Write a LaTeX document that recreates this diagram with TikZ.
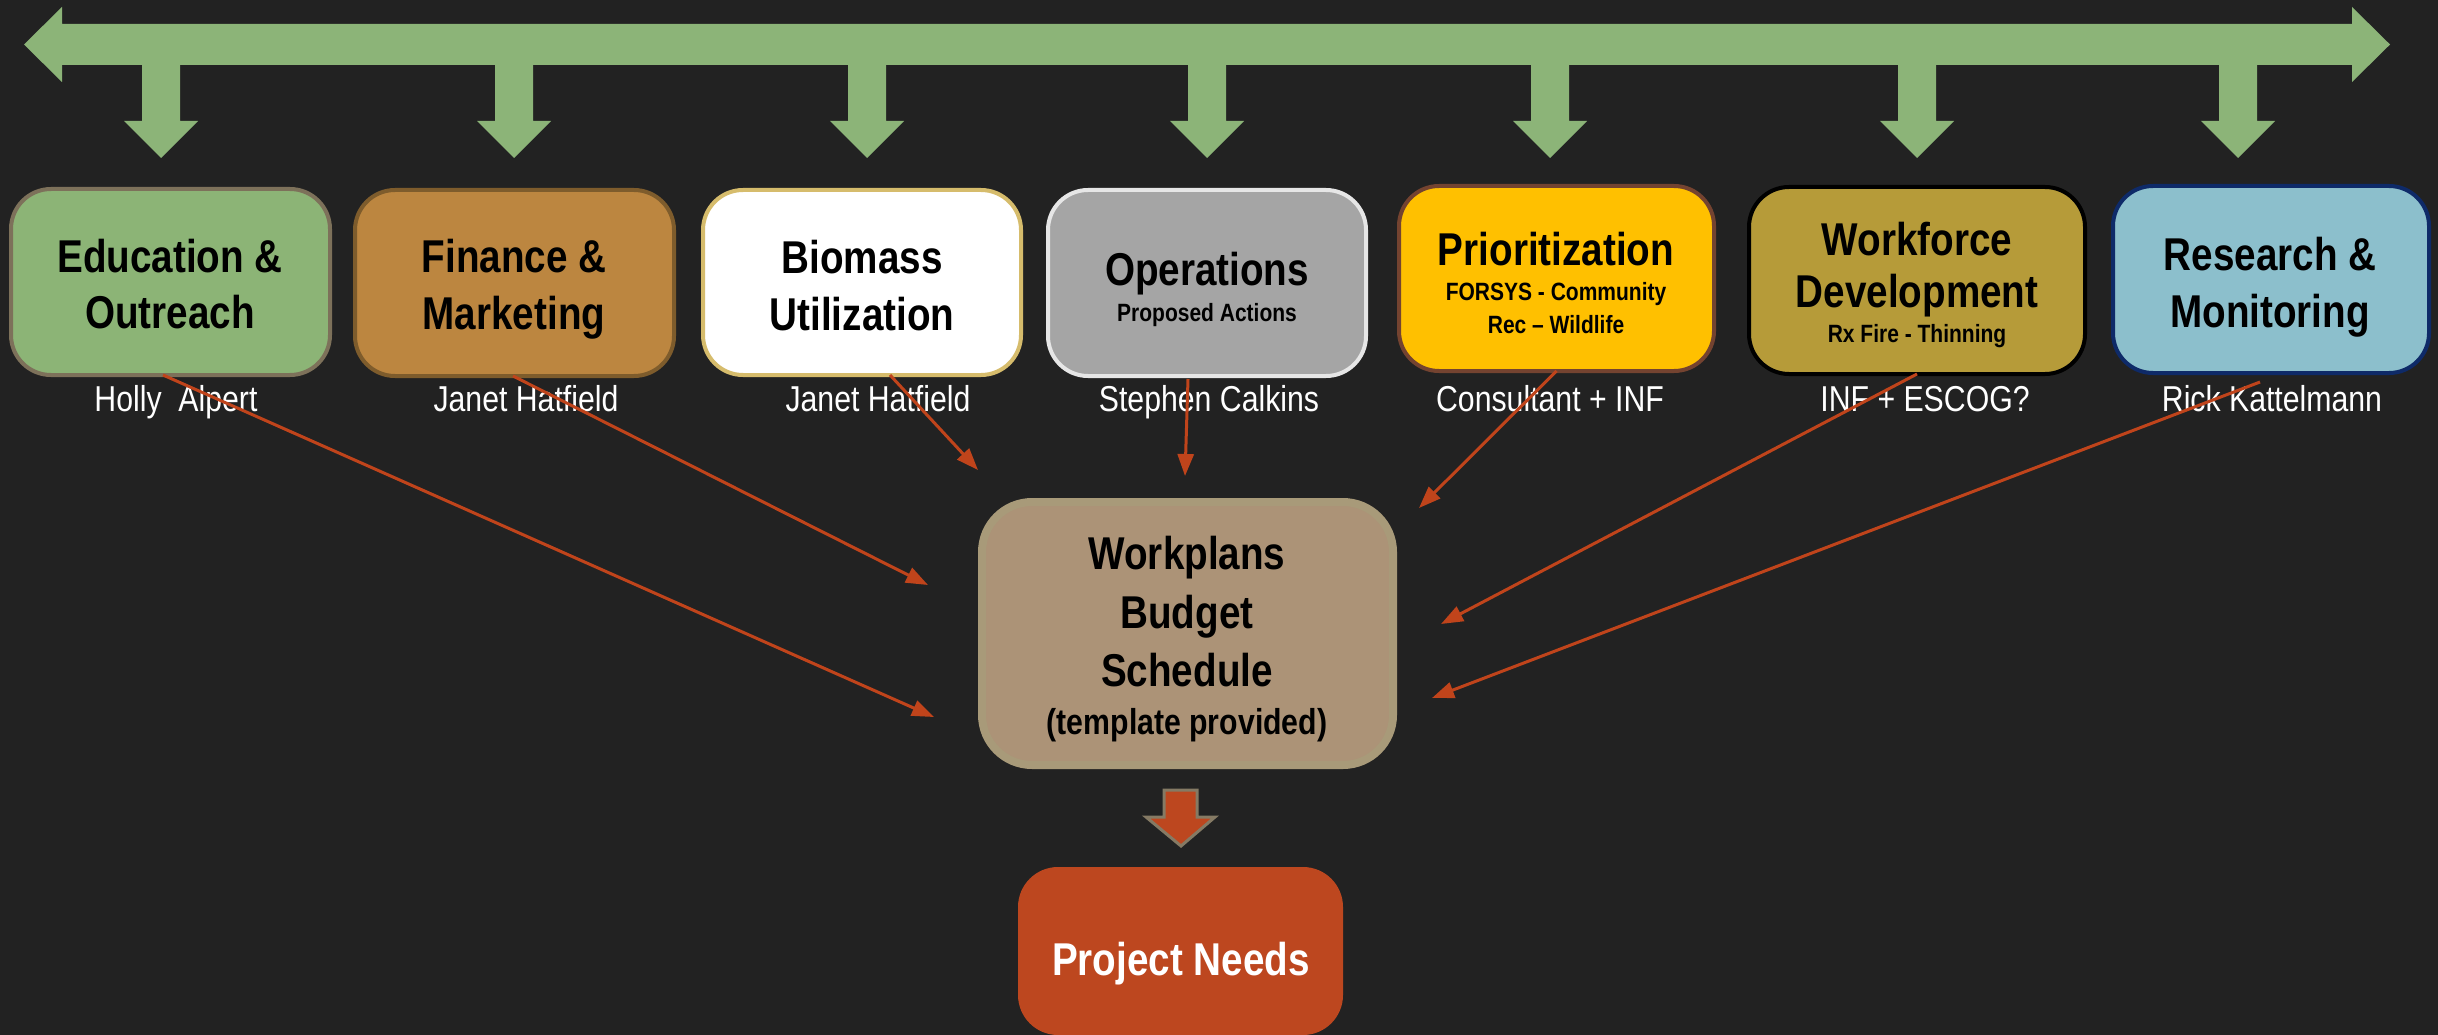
\documentclass[tikz,border=0pt]{standalone}
\usepackage{fontspec}
\setmainfont{Liberation Sans}[FakeStretch=0.84]
\usetikzlibrary{arrows.meta}
\definecolor{bgc}{HTML}{222222}
\definecolor{greenc}{HTML}{8CB478}
\definecolor{feedc}{HTML}{C0441B}
\definecolor{eduf}{HTML}{8CB476}
\definecolor{edud}{HTML}{7D715A}
\definecolor{finf}{HTML}{BC8640}
\definecolor{find}{HTML}{7E5C2C}
\definecolor{biod}{HTML}{D6BC6C}
\definecolor{opsf}{HTML}{A5A5A5}
\definecolor{opsd}{HTML}{E6E6E6}
\definecolor{prif}{HTML}{FFC000}
\definecolor{prid}{HTML}{744330}
\definecolor{wff}{HTML}{B69B39}
\definecolor{resf}{HTML}{8CBFCC}
\definecolor{resd}{HTML}{0E2A68}
\definecolor{wpf}{HTML}{AC9377}
\definecolor{wpd}{HTML}{A89A79}
\definecolor{pnf}{HTML}{BD471F}
\definecolor{blkd}{HTML}{857A64}
\begin{document}
\begin{tikzpicture}[x=1pt,y=-1pt,
  box/.style={rounded corners=40pt, line width=4pt, outer sep=0pt, inner sep=0pt},
  ttl/.style={anchor=base, inner sep=0pt, text=black, font=\bfseries\fontsize{46}{54}\selectfont},
  subt/.style={anchor=base, inner sep=0pt, text=black, font=\bfseries\fontsize{25}{30}\selectfont},
  who/.style={anchor=base, inner sep=0pt, text=white, font=\fontsize{36}{42}\selectfont},
  feed/.style={draw=feedc, line width=3pt, -{Triangle[length=22pt,width=16pt]}},
  grn/.style={fill=greenc, draw=none}]
\useasboundingbox (0,0) rectangle (2438,1035);
\fill[bgc] (0,0) rectangle (2438,1035);

% top double-headed green arrow
\path[grn] (24,44.5) -- (62,7) -- (62,24) -- (2352,24) -- (2352,7) -- (2390,44.5)
  -- (2352,82) -- (2352,65) -- (62,65) -- (62,82) -- cycle;
\foreach \cx in {161,514,867,1207,1550,1917,2238}{
  \path[grn] (\cx-19,60) -- (\cx+19,60) -- (\cx+19,121) -- (\cx+37,121) -- (\cx,158)
    -- (\cx-37,121) -- (\cx-19,121) -- cycle;
}

% category boxes
\node[box, fill=eduf, draw=edud, minimum width=319pt, minimum height=186pt] (edu) at (170.5,282) {};
\node[box, fill=finf, draw=find, minimum width=319pt, minimum height=186pt] (fin) at (514.5,283) {};
\node[box, fill=white, draw=biod, minimum width=318pt, minimum height=185pt] (bio) at (862,282.5) {};
\node[box, fill=opsf, draw=opsd, minimum width=318pt, minimum height=186pt] (ops) at (1207,283) {};
\node[box, fill=prif, draw=prid, minimum width=315pt, minimum height=185pt] (pri) at (1556.5,278.5) {};
\node[box, fill=wff, draw=black, minimum width=336pt, minimum height=187pt] (wf) at (1917,280.5) {};
\node[box, fill=resf, draw=resd, minimum width=316pt, minimum height=187pt] (res) at (2271,279.5) {};

% titles
\node[ttl] (edu1) at (170,272) {Education \&};
\node[ttl] (edu2) at (170,328) {Outreach};
\node[ttl] (fin1) at (514,272) {Finance \&};
\node[ttl] (fin2) at (514,329) {Marketing};
\node[ttl] (bio1) at (862,273) {Biomass};
\node[ttl] (bio2) at (862,330) {Utilization};
\node[ttl] (ops1) at (1207,285) {Operations};
\node[subt] (ops2) at (1207,321) {Proposed Actions};
\node[ttl] (pri1) at (1556,265) {Prioritization};
\node[subt] (pri2) at (1556,300) {FORSYS - Community};
\node[subt] (pri3) at (1556,333) {Rec – Wildlife};
\node[ttl] (wf1) at (1917,255) {Workforce};
\node[ttl] (wf2) at (1917,307) {Development};
\node[subt] (wf3) at (1917,342) {Rx Fire - Thinning};
\node[ttl] (res1) at (2270,270) {Research \&};
\node[ttl] (res2) at (2270,327) {Monitoring};

% names
\node[who] (n1) at (176,411) {Holly~~Alpert};
\node[who] (n2) at (526,411) {Janet Hatfield};
\node[who] (n3) at (878,411) {Janet Hatfield};
\node[who] (n4) at (1209,411) {Stephen Calkins};
\node[who] (n5) at (1550,411) {Consultant + INF};
\node[who] (n6) at (1925,411) {INF + ESCOG?};
\node[who] (n7) at (2272,411) {Rick Kattelmann};

% workplans box
\node[rounded corners=50pt, line width=8pt, fill=wpf, draw=wpd, outer sep=0pt,
      minimum width=411pt, minimum height=263pt] (wp) at (1187.5,633.5) {};
\node[ttl] (wp1) at (1187,569) {Workplans};
\node[ttl] (wp2) at (1187,628) {Budget};
\node[ttl] (wp3) at (1187,686) {Schedule};
\node[anchor=base, inner sep=0pt, font=\bfseries\fontsize{36}{42}\selectfont] (wp4) at (1187,734) {(template provided)};

% block arrow down
\path[fill=pnf, draw=blkd, line width=3pt, line join=miter]
  (1164,790) -- (1197,790) -- (1197,817) -- (1215,817) -- (1181,846) -- (1146,817) -- (1164,817) -- cycle;

% project needs
\node[rounded corners=40pt, fill=pnf, outer sep=0pt, minimum width=325pt, minimum height=168pt] (pn) at (1180.5,951) {};
\node[anchor=base, inner sep=0pt, text=white, font=\bfseries\fontsize{46}{54}\selectfont] (pn1) at (1181,975) {Project Needs};

% feed arrows
\coordinate (t1) at (934,717);
\coordinate (t2) at (928,585);
\coordinate (t3) at (978,470);
\coordinate (t4) at (1185,476);
\coordinate (t5) at (1419,508);
\coordinate (t6) at (1441,624);
\coordinate (t7) at (1432,698);
\draw[feed] ([xshift=-7.5pt]edu.south) -- (t1);
\draw[feed] ([xshift=-1.5pt]fin.south) -- (t2);
\draw[feed] ([xshift=28pt]bio.south) -- (t3);
\draw[feed] ([xshift=-19pt,yshift=-3pt]ops.south) -- (t4);
\draw[feed] (pri.south) -- (t5);
\draw[feed] (wf.south) -- (t6);
\draw[feed] ([xshift=-11pt,yshift=-9pt]res.south) -- (t7);
\end{tikzpicture}
\end{document}
